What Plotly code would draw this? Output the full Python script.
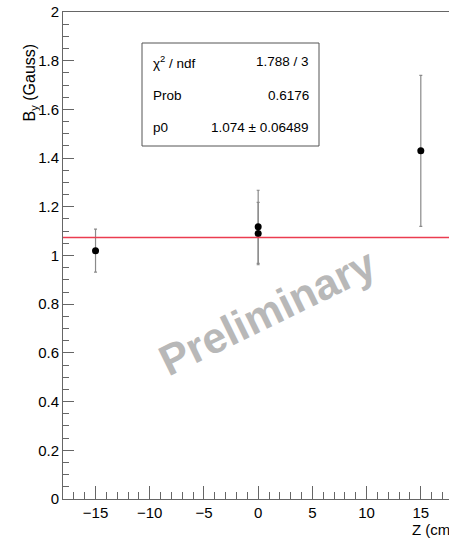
import plotly.graph_objects as go

# ---- data ----
z_cm = [-15, 0, 0, 15]
by_gauss = [1.02, 1.118, 1.09, 1.43]
by_err = [0.088, 0.15, 0.128, 0.31]
fit_p0 = 1.074
stats_labels = ["χ<sup>2</sup> / ndf", "Prob", "p0"]
stats_values = ["1.788 / 3", "0.6176", "1.074 ± 0.06489"]
x_range = [-18, 17.6]
y_range = [0, 2]

W, H = 449, 539
ML, MR, MT, MB = 63, 0, 12, 40
pw = W - ML - MR
ph = H - MT - MB

def px(xp):
    return (xp - ML) / pw

def py(yp):
    return (H - MB - yp) / ph

font = "Liberation Sans, Arial, Helvetica, sans-serif"

fig = go.Figure()

# data points
fig.add_trace(go.Scatter(
    x=z_cm, y=by_gauss, mode="markers",
    marker=dict(color="black", size=7),
    error_y=dict(type="data", array=by_err, visible=True,
                 color="#8a8a8a", thickness=1.2, width=1.5),
    showlegend=False))

# fit line (constant p0 across the axis range)
fig.add_trace(go.Scatter(
    x=x_range, y=[fit_p0] * len(x_range), mode="lines",
    line=dict(color="rgb(235,60,80)", width=1.3), hoverinfo="skip",
    showlegend=False, cliponaxis=False))

# stats box
fig.add_shape(type="rect", xref="paper", yref="paper",
              x0=px(142), x1=px(319), y0=py(146), y1=py(43),
              line=dict(color="#555555", width=1), fillcolor="white", layer="above")

row_y = [62, 95, 128]
for lab, val, yy in zip(stats_labels, stats_values, row_y):
    fig.add_annotation(xref="paper", yref="paper", x=px(151), y=py(yy),
                       text=lab, showarrow=False, xanchor="left", yanchor="middle",
                       font=dict(family=font, size=13.5, color="black"))
    fig.add_annotation(xref="paper", yref="paper", x=px(311), y=py(yy),
                       text=val, showarrow=False, xanchor="right", yanchor="middle",
                       font=dict(family=font, size=13.5, color="black"))

# watermark
fig.add_annotation(xref="paper", yref="paper", x=px(267), y=py(312),
                   text="<b>Preliminary</b>", showarrow=False, textangle=-26,
                   font=dict(family=font, size=43, color="#b8b8b8"))

# axis titles
fig.add_annotation(xref="paper", yref="paper", x=px(18), y=py(42),
                   text="B<sub>y</sub> (Gauss)", showarrow=False, textangle=-90,
                   font=dict(family=font, size=16, color="black"))
fig.add_annotation(xref="paper", yref="paper", x=px(410), y=py(529),
                   text="Z (cm)", showarrow=False, xanchor="left", yanchor="middle",
                   font=dict(family=font, size=15, color="black"))

fig.update_layout(
    width=W, height=H,
    margin=dict(l=ML, r=MR, t=MT, b=MB),
    paper_bgcolor="white", plot_bgcolor="white",
    font=dict(family=font, size=15, color="black"),
    xaxis=dict(range=x_range, tickmode="array", tickvals=[-15, -10, -5, 0, 5, 10, 15],
               ticktext=["−15", "−10", "−5", "0", "5", "10", "15"],
               ticks="inside", ticklen=13, tickcolor="#666666", tickwidth=1,
               minor=dict(ticks="inside", ticklen=7, dtick=1, tick0=0,
                          tickcolor="#666666", tickwidth=1, showgrid=False),
               showgrid=False, zeroline=False, showline=True, linecolor="#666666",
               linewidth=1, mirror=True, tickfont=dict(size=15)),
    yaxis=dict(range=y_range, tickmode="array",
               tickvals=[0, 0.2, 0.4, 0.6, 0.8, 1, 1.2, 1.4, 1.6, 1.8, 2],
               ticktext=["0", "0.2", "0.4", "0.6", "0.8", "1", "1.2", "1.4", "1.6", "1.8", "2"],
               ticks="inside", ticklen=11, tickcolor="#666666", tickwidth=1,
               minor=dict(ticks="inside", ticklen=6, dtick=0.05, tick0=0,
                          tickcolor="#666666", tickwidth=1, showgrid=False),
               showgrid=False, zeroline=False, showline=True, linecolor="#666666",
               linewidth=1, tickfont=dict(size=15)),
)

fig.write_html("out.html")
